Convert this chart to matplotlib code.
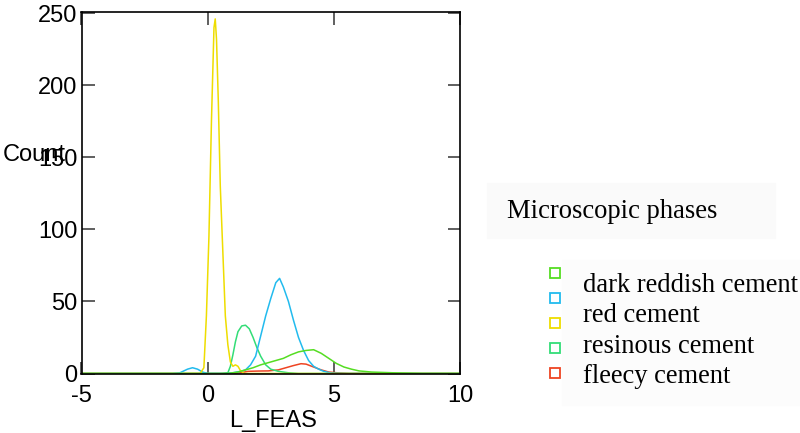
import matplotlib
matplotlib.use("Agg")
import matplotlib.pyplot as plt

plt.rcParams["axes.unicode_minus"] = False

# density curves of L_FEAS per microscopic phase
dark_x = [-5, 0.5, 0.9, 1.2, 1.5, 1.8, 2.1, 2.4, 2.7, 3.0, 3.3, 3.6, 3.9, 4.2, 4.5, 4.8,
          5.1, 5.4, 5.7, 6.0, 6.5, 7.0, 7.5, 8.5, 10]
dark_y = [0, 0, 0.3, 1, 2.5, 4, 6, 7.5, 9, 10.5, 13, 15, 16, 16.5, 14, 10.5,
          7, 4.5, 3, 1.8, 1, 0.7, 0.4, 0, 0]

red_x = [-5, -1.4, -1.1, -0.8, -0.6, -0.4, -0.2, 0.0, 0.7, 1.0, 1.3, 1.5, 1.7, 1.9, 2.1,
         2.3, 2.5, 2.7, 2.85, 3.0, 3.2, 3.4, 3.6, 3.8, 4.0, 4.2, 4.4, 4.6, 4.9, 5.5, 10]
red_y = [0, 0, 0.5, 3, 4, 3, 1, 0, 0, 0.5, 1.5, 2.5, 6, 12, 26,
         40, 52, 63, 66, 60, 50, 37, 25, 16, 9, 5, 3, 1.5, 0.3, 0, 0]

yellow_x = [-5, -0.3, -0.15, -0.05, 0.05, 0.15, 0.25, 0.3, 0.35, 0.42, 0.5, 0.6, 0.7,
            0.8, 0.9, 1.0, 1.1, 1.2, 1.3, 1.45, 10]
yellow_y = [0, 0, 4, 40, 95, 175, 240, 246, 232, 190, 130, 85, 40,
            20, 8, 5, 6, 5, 2, 0, 0]

resin_x = [-5, 0.6, 0.8, 0.9, 1.0, 1.1, 1.2, 1.35, 1.5, 1.65, 1.8, 1.95, 2.1, 2.3, 2.5,
           2.8, 3.2, 3.6, 10]
resin_y = [0, 0, 0.5, 5, 13, 22, 29, 33, 33.5, 31, 25, 18, 12, 6, 3,
           1.5, 0.5, 0, 0]

fleecy_x = [-5, 1.0, 1.3, 1.6, 2.0, 2.4, 2.8, 3.1, 3.4, 3.7, 3.9, 4.2, 4.5, 4.8, 5.2, 5.6, 10]
fleecy_y = [0, 0, 0.5, 1.5, 1.7, 1.8, 2.5, 4, 5.5, 6.8, 6.5, 4.5, 2.5, 1, 0.4, 0, 0]

legend_marks = ["#55dd22", "#22bbee", "#eedd00", "#33dd77", "#ee4422"]
legend_texts = ["dark reddish cement", "red cement", "resinous cement", "fleecy cement"]

W, H = 800, 433
fig = plt.figure(figsize=(8, 4.33), dpi=100)
ax = fig.add_axes([81.5 / W, (H - 373.5) / H, (460 - 81.5) / W, (373.5 - 11.7) / H])

ax.plot(fleecy_x, fleecy_y, color="#ee4422", lw=1.1)
ax.plot(resin_x, resin_y, color="#33dd77", lw=1.1)
ax.plot(red_x, red_y, color="#22bbee", lw=1.1)
ax.plot(yellow_x, yellow_y, color="#eedd00", lw=1.1)
ax.plot(dark_x, dark_y, color="#55dd22", lw=1.1)

ax.set_xlim(-5, 10)
ax.set_ylim(0, 251)
ax.set_xticks([-5, 0, 5, 10])
ax.set_yticks([0, 50, 100, 150, 200, 250])
ax.tick_params(direction="in", length=9, width=1.2, color="#444444",
               top=True, right=True, labelsize=17)
ax.tick_params(axis="y", pad=3)
ax.tick_params(axis="x", pad=8)
for lab in ax.get_xticklabels() + ax.get_yticklabels():
    lab.set_family("Liberation Sans")
for s in ax.spines.values():
    s.set_linewidth(1.2)

fig.text(3 / W, 1 - 155 / H, "Count", ha="left", va="center", fontsize=17,
         family="Liberation Sans")
fig.text(273 / W, 1 - 421 / H, "L_FEAS", ha="center", va="center", fontsize=17,
         family="Liberation Sans")

# legend drawn by hand to keep its odd spacing
fig.patches.append(plt.Rectangle((487 / W, 1 - 238 / H), 288 / W, 55 / H,
                                 transform=fig.transFigure, color="#fafafa", zorder=0))
fig.patches.append(plt.Rectangle((562 / W, 1 - 405 / H), 238 / W, 145 / H,
                                 transform=fig.transFigure, color="#fcfcfc", zorder=0))
fig.text(507 / W, 1 - 218 / H, "Microscopic phases", ha="left", va="baseline",
         fontsize=19.2, family="Liberation Serif")
for i, c in enumerate(legend_marks):
    fig.lines.append(plt.Line2D([555 / W], [1 - (272.7 + 25.1 * i) / H], marker="s",
                                markersize=7.5, markerfacecolor="none", markeredgecolor=c,
                                markeredgewidth=1.3, transform=fig.transFigure))
for i, t in enumerate(legend_texts):
    fig.text(583 / W, 1 - (291.7 + 30.5 * i) / H, t, ha="left", va="baseline",
             fontsize=19.1, family="Liberation Serif")

fig.savefig("out.png", dpi=100)
